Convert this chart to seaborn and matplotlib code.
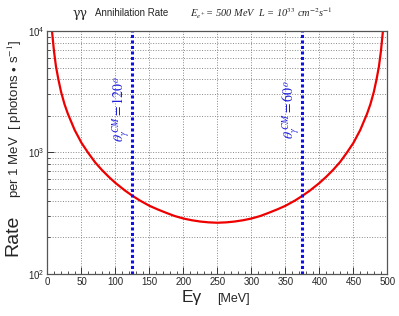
import seaborn as sns
import matplotlib.pyplot as plt
import matplotlib.ticker as mticker
import pandas as pd

# photon energy [MeV] and rate per 1 MeV [photons/s]
energy = [6, 9.6, 12.5, 16, 20, 25, 30, 40, 50, 60, 70, 80, 90, 100, 114, 125, 136, 150,
          162, 175, 187, 200, 212, 225, 237, 250, 263, 275, 288, 300, 313, 325, 338, 350,
          364, 375, 386, 400, 410, 420, 430, 440, 450, 460, 470, 475, 480, 484, 487.5,
          490.4, 494]
rate = [10800, 6800, 5100, 4000, 3150, 2500, 2080, 1530, 1200, 990, 830, 718, 631, 561,
        486, 440, 402, 364, 340, 318, 300, 286, 277, 270, 266, 264, 266, 270, 277, 286,
        300, 318, 340, 364, 402, 440, 486, 561, 631, 718, 830, 990, 1200, 1530, 2080,
        2500, 3150, 4000, 5100, 6800, 10800]

angle_pos = [125, 375]
angle_labels = [r"$\theta_\gamma^{\,CM}\mathit{= 120^o}$", r"$\theta_\gamma^{\,CM}\mathit{= 60^o}$"]

sns.set_style("white")
plt.rcParams['font.family'] = ['Liberation Sans', 'DejaVu Sans']
plt.rcParams['mathtext.fontset'] = 'stix'

fig = plt.figure(figsize=(3.99, 3.16), dpi=100)
ax = fig.add_axes([0.119, 0.133, 0.852, 0.769])

df = pd.DataFrame({"E": energy, "rate": rate})
sns.lineplot(data=df, x="E", y="rate", color="#ee0000", linewidth=1.6, ax=ax)

# CM angle markers
for xv, lab in zip(angle_pos, angle_labels):
    ax.axvline(xv, color="#1010ee", linewidth=2.2, linestyle=(0, (1, 0.8)))
    ax.text(xv - 17, 2250, lab, rotation=90, color="#2020dd", fontsize=10,
            ha="center", va="center")

ax.set_yscale("log")
ax.set_xlim(0, 500)
ax.set_ylim(100, 10000)

ax.xaxis.set_major_locator(mticker.MultipleLocator(50))
ax.xaxis.set_minor_locator(mticker.MultipleLocator(10))
ax.yaxis.set_minor_locator(mticker.LogLocator(base=10, subs=range(2, 10)))
ax.yaxis.set_minor_formatter(mticker.NullFormatter())

ax.grid(True, which="major", axis="x", linestyle=":", color="#888888", linewidth=0.7)
ax.grid(True, which="both", axis="y", linestyle=":", color="#888888", linewidth=0.7)

ax.tick_params(axis="both", which="both", direction="in", labelsize=7, color="#333333",
               bottom=True, left=True)
ax.tick_params(axis="both", which="major", length=5, width=0.7, pad=2)
ax.tick_params(axis="both", which="minor", length=2.5, width=0.6)
for s in ax.spines.values():
    s.set_color("#555555")
    s.set_linewidth(0.9)

ax.set_xlabel("")
ax.set_ylabel("")

# title pieces
fig.text(0.183, 0.958, "γγ", fontsize=9, family="DejaVu Serif", va="center")
fig.text(0.237, 0.958, "Annihilation Rate", fontsize=7, va="center")
fig.text(0.475, 0.958, r"$E_{e^+}$= 500 MeV  L = 10$^{33}$ cm$^{-2}$s$^{-1}$",
         fontsize=7.5, family="Liberation Serif", fontstyle="italic", va="center")

# axis titles
fig.text(0.456, 0.058, "Eγ", fontsize=12.5, va="center")
fig.text(0.545, 0.055, "[MeV]", fontsize=9, va="center")
fig.text(0.032, 0.255, "Rate", fontsize=14, rotation=90, ha="center", va="center")
fig.text(0.037, 0.625, r"per 1 MeV  [ photons $\bullet$ s$^{-1}$]", fontsize=9.5,
         rotation=90, ha="center", va="center")

fig.savefig("out.png", dpi=100)
